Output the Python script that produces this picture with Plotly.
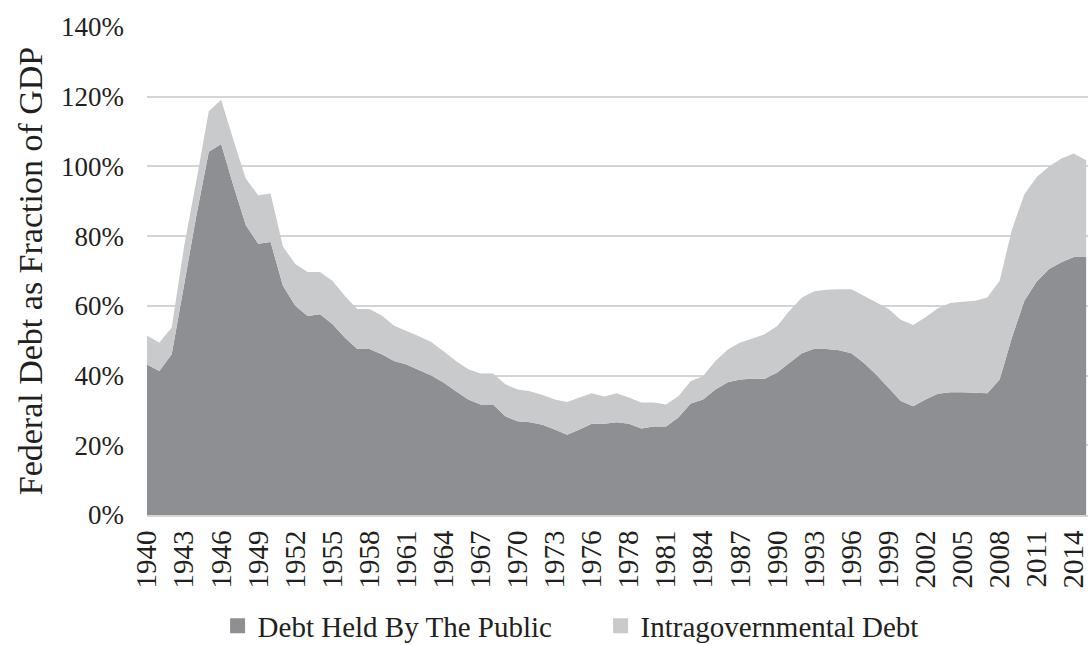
import plotly.graph_objects as go

years = [str(y) for y in range(1940, 1977)] + ["TQ"] + [str(y) for y in range(1977, 2016)]

public = [43.2, 41.3, 46.1, 66.0, 86.0, 104.2, 106.4, 94.4, 83.1, 77.8,
          78.3, 65.8, 60.0, 57.1, 57.6, 54.8, 50.9, 47.7, 47.6, 46.1,
          44.2, 43.2, 41.6, 40.0, 38.0, 35.5, 33.1, 31.7, 31.7, 28.3,
          26.9, 26.6, 25.9, 24.5, 23.0, 24.5, 26.2, 26.2, 26.6, 26.2,
          24.8, 25.4, 25.4, 28.0, 32.0, 33.1, 36.0, 38.1, 38.9, 39.1,
          39.1, 40.9, 43.7, 46.4, 47.7, 47.6, 47.3, 46.4, 43.7, 40.3,
          36.5, 32.7, 31.2, 33.1, 34.8, 35.2, 35.2, 35.1, 34.9, 38.9,
          51.0, 61.5, 67.0, 70.6, 72.5, 74.0, 74.0]

total = [51.4, 49.5, 53.8, 77.0, 96.0, 115.8, 119.1, 107.5, 96.5, 91.7,
         92.2, 77.0, 72.0, 69.7, 69.7, 67.2, 62.9, 59.1, 59.1, 57.2,
         54.3, 52.8, 51.3, 49.6, 47.0, 44.2, 41.8, 40.6, 40.6, 37.5,
         36.0, 35.5, 34.4, 33.1, 32.4, 33.7, 34.9, 34.0, 34.9, 33.7,
         32.3, 32.3, 31.7, 34.1, 38.4, 39.9, 44.2, 47.5, 49.5, 50.6,
         51.9, 54.2, 58.6, 62.4, 64.2, 64.6, 64.8, 64.8, 62.9, 61.0,
         59.1, 56.0, 54.5, 56.7, 59.3, 60.8, 61.2, 61.5, 62.4, 67.2,
         82.0, 92.0, 97.0, 100.0, 102.3, 103.7, 101.8]

intragov = [round(t - p, 1) for t, p in zip(total, public)]

series_names = ["Debt Held By The Public", "Intragovernmental Debt"]
y_ticks = [0, 20, 40, 60, 80, 100, 120, 140]
y_tick_labels = [f"{v}%" for v in y_ticks]
x_tick_labels = years[0::3]

DARK = "#8e8f93"
LIGHT = "#c9cacc"
TEXT = "#231f20"
FONT = "Liberation Serif"

fig = go.Figure()
for name, vals, col in [(series_names[0], public, DARK), (series_names[1], intragov, LIGHT)]:
    fig.add_trace(go.Scatter(
        x=years, y=vals, mode="none", stackgroup="one", fillcolor=col,
        name=name, showlegend=False, hoverinfo="skip"))
# legend entries
for name, col in [(series_names[0], DARK), (series_names[1], LIGHT)]:
    fig.add_trace(go.Scatter(
        x=[None], y=[None], mode="markers", name=name,
        marker=dict(symbol="square", size=15, color=col)))

fig.update_layout(
    width=1088, height=645,
    margin=dict(l=147, r=0, t=27, b=130),
    paper_bgcolor="white", plot_bgcolor="white",
    font=dict(family=FONT, color=TEXT),
    legend=dict(orientation="h", xref="container", yref="container",
                x=0.2, y=(645 - 626) / 645, xanchor="left", yanchor="middle",
                traceorder="normal",
                font=dict(family=FONT, size=29, color=TEXT),
                entrywidth=338, entrywidthmode="pixels",
                bgcolor="rgba(0,0,0,0)", itemclick=False),
)
fig.update_xaxes(
    type="category", range=[0, 76.15],
    tickmode="array", tickvals=x_tick_labels, ticktext=x_tick_labels,
    tickangle=-90, tickfont=dict(family=FONT, size=29, color=TEXT),
    showgrid=False, ticks="", ticklabelstandoff=2,
    showline=True, linecolor="#d6d6d6", linewidth=2, zeroline=False,
)
fig.update_yaxes(
    range=[0, 140], tickmode="array", tickvals=y_ticks, ticktext=y_tick_labels,
    tickfont=dict(family=FONT, size=27, color=TEXT),
    showgrid=True, gridcolor="#d4d4d4", gridwidth=2, zeroline=False,
    ticks="", ticklabelstandoff=22,
    title=dict(text="Federal Debt as Fraction of GDP",
               font=dict(family=FONT, size=34, color=TEXT), standoff=8),
)

fig.write_html("out.html", config={"displayModeBar": False},
               post_script="document.body.style.margin='0';document.body.style.overflow='hidden';")
